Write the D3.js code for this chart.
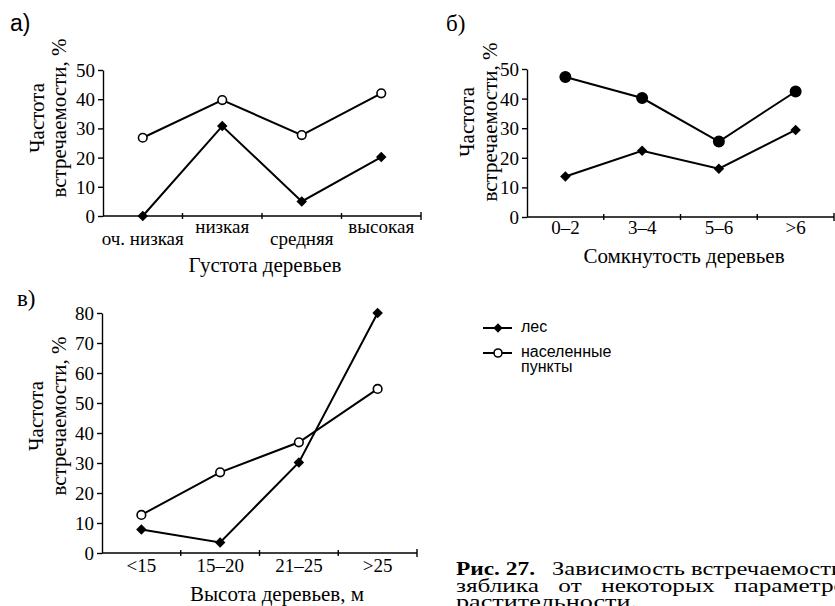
<!DOCTYPE html>
<html>
<head>
<meta charset="utf-8">
<script src="https://cdnjs.cloudflare.com/ajax/libs/d3/7.8.5/d3.min.js"></script>
<style>
    body { margin: 0; background: #fff; }
    svg { display: block; }
    text { font-family: "Liberation Serif", "Times New Roman", serif; fill: #000; }
</style>
</head>
<body>
<div id="chart"></div>
<script>
// а) густота деревьев
var densityCats = ["оч. низкая", "низкая", "средняя", "высокая"];
var densityForest = [0, 30.8, 5, 20.2];
var densitySettl = [26.8, 39.7, 27.7, 42];
// б) сомкнутость деревьев
var closureCats = ["0–2", "3–4", "5–6", ">6"];
var closureForest = [13.7, 22.4, 16.3, 29.4];
var closureSettl = [47.3, 40.2, 25.5, 42.4];
// в) высота деревьев
var heightCats = ["<15", "15–20", "21–25", ">25"];
var heightForest = [7.8, 3.5, 30.2, 80];
var heightSettl = [12.7, 26.9, 36.9, 54.7];

var yTicks50 = [0, 10, 20, 30, 40, 50];
var yTicks80 = [0, 10, 20, 30, 40, 50, 60, 70, 80];

var w = 835,
    h = 606;

var svg = d3.select("#chart").append("svg")
    .attr("width", w)
    .attr("height", h);

var diamond = d3.symbol().type(d3.symbolDiamond2).size(70);

function drawPanel(opt) {
    var x = d3.scaleBand()
        .domain(opt.cats)
        .range([opt.x0, opt.x1])
        .paddingInner(0)
        .paddingOuter(0);

    var y = d3.scaleLinear()
        .domain([0, opt.yMax])
        .range([opt.y0, opt.y1]);

    var g = svg.append("g");

    // y axis
    g.append("g")
        .attr("transform", "translate(" + opt.x0 + ",0)")
        .call(d3.axisLeft(y).tickValues(opt.yTicks).tickSize(5).tickSizeOuter(0).tickPadding(3))
        .call(function(a) {
            a.selectAll("path, line").attr("stroke", "#000").attr("stroke-width", 1.4);
            a.selectAll("text")
                .style("font-family", "Liberation Serif")
                .style("font-size", "19px")
                .attr("dy", "0.34em");
        });

    // x axis: line + ticks at category borders
    g.append("line")
        .attr("x1", opt.x0).attr("x2", opt.x1)
        .attr("y1", opt.y0).attr("y2", opt.y0)
        .attr("stroke", "#000").attr("stroke-width", 1.4);

    g.selectAll(".xtick")
        .data(opt.cats)
        .enter().append("line")
        .attr("class", "xtick")
        .attr("x1", function(d) { return x(d) + x.bandwidth(); })
        .attr("x2", function(d) { return x(d) + x.bandwidth(); })
        .attr("y1", function(d, i) { return opt.y0 - (i == opt.cats.length - 1 ? 4 : 3); })
        .attr("y2", function(d, i) { return opt.y0 + (i == opt.cats.length - 1 ? 4 : 3); })
        .attr("stroke", "#000").attr("stroke-width", 1.4);

    g.selectAll(".xlab")
        .data(opt.cats)
        .enter().append("text")
        .attr("class", "xlab")
        .attr("x", function(d) { return x(d) + x.bandwidth() / 2; })
        .attr("y", function(d, i) { return opt.labY[i % opt.labY.length]; })
        .attr("text-anchor", "middle")
        .style("font-size", "19px")
        .text(function(d) { return d; });

    g.append("text")
        .attr("x", opt.titleX)
        .attr("y", opt.titleY)
        .attr("text-anchor", "middle")
        .style("font-size", "21px")
        .text(opt.title);

    // y label, two lines
    var yl = g.append("text")
        .attr("transform", "translate(" + opt.ylX + "," + opt.ylY + ") rotate(-90)")
        .attr("text-anchor", "middle")
        .style("font-size", "21px");
    yl.append("tspan").attr("x", 0).attr("y", 0).text("Частота");
    yl.append("tspan").attr("x", 0).attr("y", opt.ylGap).text("встречаемости, %");

    g.append("text")
        .attr("x", opt.letterX)
        .attr("y", opt.letterY)
        .style("font-family", opt.letterFont)
        .style("font-size", "23px")
        .text(opt.letter);

    var line = d3.line()
        .x(function(d, i) { return x(opt.cats[i]) + x.bandwidth() / 2; })
        .y(function(d) { return y(d); });

    [opt.settl, opt.forest].forEach(function(s) {
        g.append("path")
            .datum(s)
            .attr("d", line)
            .attr("fill", "none")
            .attr("stroke", "#000")
            .attr("stroke-width", 2);
    });

    // settlements markers
    g.selectAll(".settl")
        .data(opt.settl)
        .enter().append("circle")
        .attr("class", "settl")
        .attr("cx", function(d, i) { return x(opt.cats[i]) + x.bandwidth() / 2; })
        .attr("cy", function(d) { return y(d); })
        .attr("r", opt.filled ? 5.2 : 4.3)
        .attr("fill", opt.filled ? "#000" : "#fff")
        .attr("stroke", "#000")
        .attr("stroke-width", 1.6);

    // forest markers
    g.selectAll(".forest")
        .data(opt.forest)
        .enter().append("path")
        .attr("class", "forest")
        .attr("d", diamond)
        .attr("transform", function(d, i) {
            return "translate(" + (x(opt.cats[i]) + x.bandwidth() / 2) + "," + y(d) + ")";
        })
        .attr("fill", "#000");
}

drawPanel({
    cats: densityCats, forest: densityForest, settl: densitySettl,
    yMax: 50, yTicks: yTicks50,
    x0: 103, x1: 421, y0: 216, y1: 70,
    labY: [245, 233],
    title: "Густота деревьев", titleX: 265, titleY: 272,
    ylX: 44, ylY: 118, ylGap: 22,
    letter: "а)", letterX: 10, letterY: 31, letterFont: "Liberation Sans",
    filled: false
});

drawPanel({
    cats: closureCats, forest: closureForest, settl: closureSettl,
    yMax: 50, yTicks: yTicks50,
    x0: 527, x1: 834, y0: 217, y1: 69,
    labY: [234],
    title: "Сомкнутость деревьев", titleX: 684, titleY: 263,
    ylX: 474, ylY: 122, ylGap: 23,
    letter: "б)", letterX: 446, letterY: 31, letterFont: "Liberation Serif",
    filled: true
});

drawPanel({
    cats: heightCats, forest: heightForest, settl: heightSettl,
    yMax: 80, yTicks: yTicks80,
    x0: 102, x1: 417, y0: 553, y1: 313,
    labY: [572],
    title: "Высота деревьев, м", titleX: 277, titleY: 601,
    ylX: 43, ylY: 416, ylGap: 23,
    letter: "в)", letterX: 17, letterY: 306, letterFont: "Liberation Serif",
    filled: false
});

// legend
var legendItems = [
    { label: ["лес"], y: 328, kind: "forest" },
    { label: ["населенные", "пункты"], y: 353, kind: "settl" }
];

var lg = svg.append("g");
legendItems.forEach(function(d) {
    lg.append("line")
        .attr("x1", 483).attr("x2", 512)
        .attr("y1", d.y).attr("y2", d.y)
        .attr("stroke", "#000").attr("stroke-width", 2);
    if (d.kind == "forest") {
        lg.append("path")
            .attr("d", d3.symbol().type(d3.symbolDiamond2).size(55))
            .attr("transform", "translate(498," + d.y + ")")
            .attr("fill", "#000");
    } else {
        lg.append("circle")
            .attr("cx", 498).attr("cy", d.y).attr("r", 4)
            .attr("fill", "#fff").attr("stroke", "#000").attr("stroke-width", 1.6);
    }
    var t = lg.append("text")
        .attr("x", 521)
        .attr("y", d.y + 4)
        .style("font-family", "Liberation Sans")
        .style("font-size", "16px");
    d.label.forEach(function(s, i) {
        t.append("tspan").attr("x", 521).attr("dy", i == 0 ? 0 : 15).text(s);
    });
});

// caption: wide print face, runs past the right edge like the scan
var caption = svg.append("g").style("font-size", "19px");
caption.append("text")
    .attr("x", 456).attr("y", 575)
    .attr("textLength", 79).attr("lengthAdjust", "spacingAndGlyphs")
    .style("font-weight", "bold")
    .text("Рис. 27.");
caption.append("text")
    .attr("x", 552).attr("y", 575)
    .attr("textLength", 292).attr("lengthAdjust", "spacingAndGlyphs")
    .text("Зависимость встречаемости");
caption.append("text")
    .attr("x", 456).attr("y", 592)
    .attr("word-spacing", 10)
    .attr("textLength", 402).attr("lengthAdjust", "spacingAndGlyphs")
    .text("зяблика от некоторых параметров");
caption.append("text")
    .attr("x", 456).attr("y", 608)
    .attr("textLength", 181).attr("lengthAdjust", "spacingAndGlyphs")
    .text("растительности.");
</script>
</body>
</html>
